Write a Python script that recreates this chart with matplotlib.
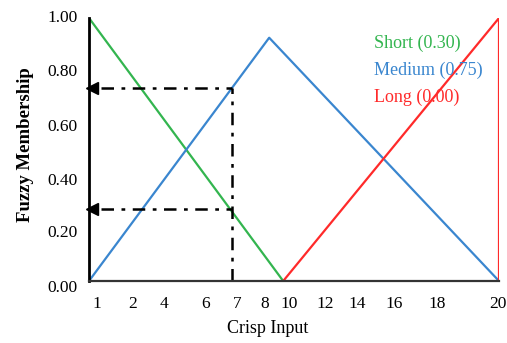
import matplotlib
matplotlib.use("Agg")
import matplotlib.pyplot as plt
import matplotlib.transforms as mtransforms

# Membership functions (x, membership)
short_x = [1, 10]
short_y = [1.0, 0.0]
medium_x = [1, 9.35, 20]
medium_y = [0.0, 0.925, 0.0]
long_x = [10, 20, 20]
long_y = [0.0, 1.0, 0.0]

crisp_value = 7.64
short_level = 0.274
medium_level = 0.734

legend_labels = ["Short (0.30)", "Medium (0.75)", "Long (0.00)"]
x_tick_labels = ["1", "2", "4", "6", "7", "8", "10", "12", "14", "16", "18", "20"]
x_tick_pos = [1.37, 3.04, 4.48, 6.38, 7.86, 9.16, 10.27, 11.94, 13.42, 15.13, 17.13, 19.95]
y_tick_labels = ["0.00", "0.20", "0.40", "0.60", "0.80", "1.00"]
y_tick_pos = [-0.027, 0.183, 0.380, 0.586, 0.795, 1.0]

green = "#33b54f"
blue = "#3a86cf"
red = "#ff2a2a"

plt.rcParams["font.family"] = ["Liberation Serif", "DejaVu Serif"]

fig = plt.figure(figsize=(5.07, 3.43), dpi=100)
ax = fig.add_axes([89/507, 1-281/343, 410/507, 263/343])

ax.plot(short_x, short_y, color=green, lw=1.6, solid_capstyle="butt")
ax.plot(medium_x, medium_y, color=blue, lw=1.6)
ax.plot(long_x, long_y, color=red, lw=1.6)

# dash-dot projection lines
dd = (0, (5, 3, 1.5, 3))
ax.plot([crisp_value, crisp_value], [0, medium_level], color="black", lw=1.8,
        linestyle=dd)
for lvl in (short_level, medium_level):
    ax.plot([1.55, crisp_value], [lvl, lvl], color="black", lw=1.8, linestyle=dd)
    ax.plot([1.12], [lvl], marker="<", color="black", markersize=9, clip_on=False)

ax.set_xlim(1, 20)
ax.set_ylim(0, 1)

ax.set_xticks(x_tick_pos)
ax.set_xticklabels(x_tick_labels)
ax.set_yticks([])
ax.tick_params(axis="x", length=0, labelsize=12.5, pad=11)

trans = mtransforms.blended_transform_factory(ax.transAxes, ax.transData)
for pos, lab in zip(y_tick_pos, y_tick_labels):
    ax.text(-0.027, pos, lab, transform=trans, ha="right", va="center",
            fontsize=12.5, clip_on=False)

ax.spines["top"].set_visible(False)
ax.spines["right"].set_visible(False)
ax.spines["left"].set_linewidth(2.0)
ax.spines["left"].set_color("black")
ax.spines["bottom"].set_linewidth(1.6)
ax.spines["bottom"].set_color("#333333")

ax.set_xlabel("Crisp Input", fontsize=13)
ax.xaxis.set_label_coords(0.437, -0.148)
ax.set_ylabel("Fuzzy Membership", fontsize=13.5, fontweight="bold")
ax.yaxis.set_label_coords(-0.135, 0.517)

colors = [green, blue, red]
for i, (lab, c) in enumerate(zip(legend_labels, colors)):
    ax.text(0.695, 0.905 - i * 0.104, lab, transform=ax.transAxes,
            color=c, fontsize=13, va="center", ha="left")

fig.savefig("out.png", dpi=100)
